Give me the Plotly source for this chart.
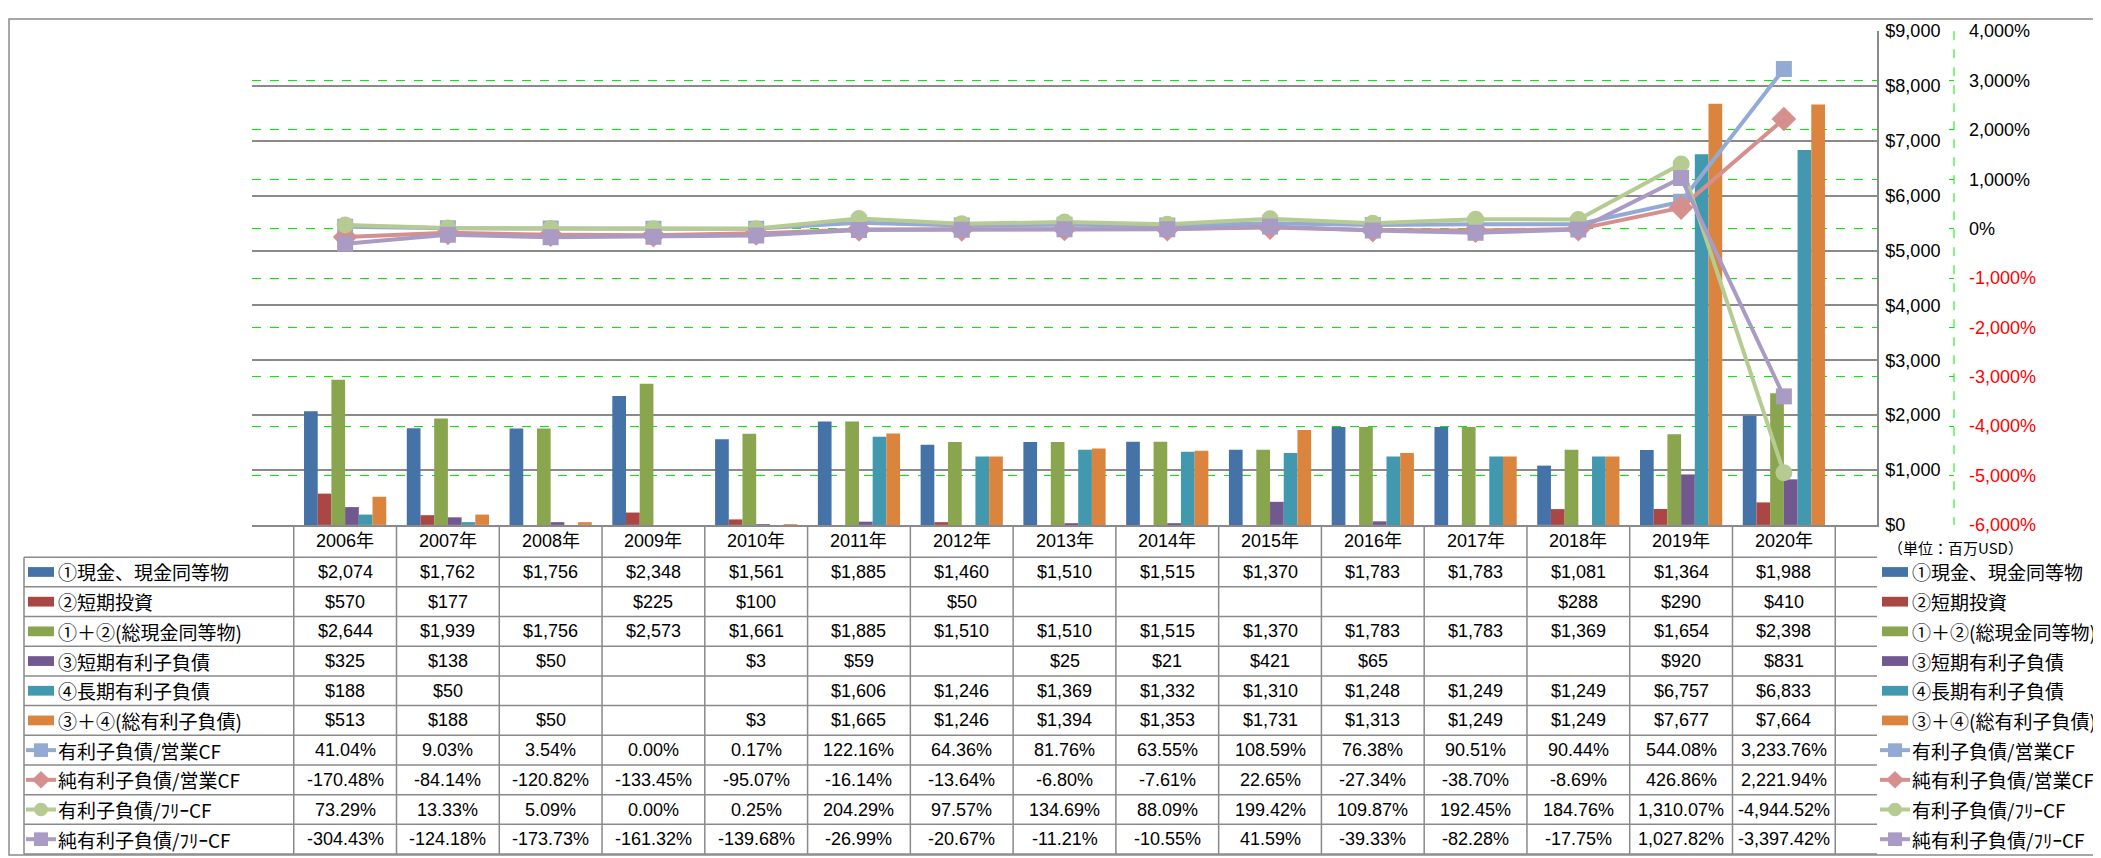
import plotly.graph_objects as go

# ---------------- data ----------------
years = ["2006年", "2007年", "2008年", "2009年", "2010年", "2011年", "2012年", "2013年",
         "2014年", "2015年", "2016年", "2017年", "2018年", "2019年", "2020年"]

cash = [2074, 1762, 1756, 2348, 1561, 1885, 1460, 1510, 1515, 1370, 1783, 1783, 1081, 1364, 1988]
short_inv = [570, 177, None, 225, 100, None, 50, None, None, None, None, None, 288, 290, 410]
total_cash = [2644, 1939, 1756, 2573, 1661, 1885, 1510, 1510, 1515, 1370, 1783, 1783, 1369, 1654, 2398]
short_debt = [325, 138, 50, None, 3, 59, None, 25, 21, 421, 65, None, None, 920, 831]
long_debt = [188, 50, None, None, None, 1606, 1246, 1369, 1332, 1310, 1248, 1249, 1249, 6757, 6833]
total_debt = [513, 188, 50, None, 3, 1665, 1246, 1394, 1353, 1731, 1313, 1249, 1249, 7677, 7664]

debt_ocf = [41.04, 9.03, 3.54, 0.00, 0.17, 122.16, 64.36, 81.76, 63.55, 108.59, 76.38, 90.51, 90.44, 544.08, 3233.76]
netdebt_ocf = [-170.48, -84.14, -120.82, -133.45, -95.07, -16.14, -13.64, -6.80, -7.61, 22.65, -27.34, -38.70, -8.69, 426.86, 2221.94]
debt_fcf = [73.29, 13.33, 5.09, 0.00, 0.25, 204.29, 97.57, 134.69, 88.09, 199.42, 109.87, 192.45, 184.76, 1310.07, -4944.52]
netdebt_fcf = [-304.43, -124.18, -173.73, -161.32, -139.68, -26.99, -20.67, -11.21, -10.55, 41.59, -39.33, -82.28, -17.75, 1027.82, -3397.42]

bar_names = ["①現金、現金同等物", "②短期投資", "①＋②(総現金同等物)", "③短期有利子負債",
             "④長期有利子負債", "③＋④(総有利子負債)"]
line_names = ["有利子負債/営業CF", "純有利子負債/営業CF", "有利子負債/ﾌﾘｰCF", "純有利子負債/ﾌﾘｰCF"]

usd_ticks = list(range(0, 9001, 1000))
pct_ticks = list(range(-6000, 4001, 1000))
unit_label = "（単位：百万USD）"

# ---------------- styles ----------------
bar_colors = ["#4572A7", "#AA4643", "#89A54E", "#71588F", "#4198AF", "#DB843D"]
line_colors = ["#93ABD4", "#D58F8D", "#B5CB92", "#A99BC3"]
line_symbols = ["square", "diamond", "circle", "square"]
line_msizes = [16, 19, 17, 16]

W, H = 2101, 858
def px(x):
    return x / W
def py(y):
    return 1 - y / H

PLOT_L, PLOT_R, PLOT_T, PLOT_B = 244, 1869, 13.5, 519
HEAD_B = 552
TABLE_B = 856
TABLE_L = 16
GRAY = "#8a8a8a"
NUM_FONT = "Liberation Sans, Noto Sans CJK JP"
JP_FONT = "Noto Sans CJK JP"

bar_series = [cash, short_inv, total_cash, short_debt, long_debt, total_debt]
line_series = [debt_ocf, netdebt_ocf, debt_fcf, netdebt_fcf]

fig = go.Figure()
for name, vals, col in zip(bar_names, bar_series, bar_colors):
    fig.add_trace(go.Bar(x=years, y=vals, name=name, marker=dict(color=col, line=dict(width=0)),
                         yaxis="y", hoverinfo="skip"))
for name, vals, col, sym, ms in zip(line_names, line_series, line_colors, line_symbols, line_msizes):
    fig.add_trace(go.Scatter(x=years, y=vals, name=name, yaxis="y2", mode="lines+markers",
                             line=dict(color=col, width=4),
                             marker=dict(symbol=sym, size=ms, color=col),
                             hoverinfo="skip"))

# ---------------- table ----------------
rows_h = (TABLE_B - HEAD_B) / 10.0
row_bounds = [HEAD_B + i * rows_h for i in range(11)]
row_centers = [(row_bounds[i] + row_bounds[i + 1]) / 2 for i in range(10)]
head_center = (PLOT_B + HEAD_B) / 2

shapes = []
annotations = []

# vertical lines of data columns
for i in range(len(years) + 1):
    shapes.append(dict(type="line", xref="x", yref="paper", x0=i - 0.5, x1=i - 0.5,
                       y0=py(PLOT_B), y1=py(TABLE_B), line=dict(color=GRAY, width=1.5)))
# left border of label column
shapes.append(dict(type="line", xref="paper", yref="paper", x0=px(TABLE_L), x1=px(TABLE_L),
                   y0=py(HEAD_B), y1=py(TABLE_B), line=dict(color=GRAY, width=1.5)))
# horizontal lines
for yb in row_bounds:
    shapes.append(dict(type="line", xref="paper", yref="paper", x0=px(TABLE_L), x1=px(PLOT_R),
                       y0=py(yb), y1=py(yb), line=dict(color=GRAY, width=1.5)))

# header labels
for yr in years:
    annotations.append(dict(x=yr, y=py(head_center), xref="x", yref="paper", text=yr,
                            showarrow=False, xanchor="center", yanchor="middle",
                            font=dict(family=NUM_FONT, size=18, color="#000")))

# cell values
all_series = bar_series + line_series
for r, vals in enumerate(all_series):
    for yr, v in zip(years, vals):
        if v is None:
            continue
        txt = f"${v:,.0f}" if r < 6 else f"{v:,.2f}%"
        annotations.append(dict(x=yr, y=py(row_centers[r]), xref="x", yref="paper", text=txt,
                                showarrow=False, xanchor="center", yanchor="middle",
                                font=dict(family=NUM_FONT, size=18, color="#000")))

# legend keys (in table label column and right legend)
def add_key(r, x0, x1, text_x):
    yc = row_centers[r]
    if r < 6:
        shapes.append(dict(type="rect", xref="paper", yref="paper",
                           x0=px(x0 + 2), x1=px(x1 - 2), y0=py(yc - 5), y1=py(yc + 5),
                           fillcolor=bar_colors[r], line=dict(width=0)))
    else:
        k = r - 6
        col = line_colors[k]
        shapes.append(dict(type="line", xref="paper", yref="paper", x0=px(x0), x1=px(x1),
                           y0=py(yc), y1=py(yc), line=dict(color=col, width=4)))
        xc = (x0 + x1) / 2
        s = 7
        if line_symbols[k] == "square":
            shapes.append(dict(type="rect", xref="paper", yref="paper", x0=px(xc - s), x1=px(xc + s),
                               y0=py(yc - s), y1=py(yc + s), fillcolor=col, line=dict(width=0)))
        elif line_symbols[k] == "circle":
            shapes.append(dict(type="circle", xref="paper", yref="paper", x0=px(xc - s), x1=px(xc + s),
                               y0=py(yc - s), y1=py(yc + s), fillcolor=col, line=dict(width=0)))
        else:
            d = 9
            path = (f"M {px(xc - d)} {py(yc)} L {px(xc)} {py(yc - d)} "
                    f"L {px(xc + d)} {py(yc)} L {px(xc)} {py(yc + d)} Z")
            shapes.append(dict(type="path", xref="paper", yref="paper", path=path,
                               fillcolor=col, line=dict(width=0)))
    names = bar_names + line_names
    annotations.append(dict(x=px(text_x), y=py(yc), xref="paper", yref="paper", text=names[r],
                            showarrow=False, xanchor="left", yanchor="middle",
                            font=dict(family=JP_FONT, size=19, color="#000")))

for r in range(10):
    add_key(r, 18, 48, 48)
    add_key(r, 1872, 1902, 1902)

annotations.append(dict(x=px(1878), y=py(542), xref="paper", yref="paper", text=unit_label,
                        showarrow=False, xanchor="left", yanchor="middle",
                        font=dict(family=JP_FONT, size=15, color="#000")))

# dashed secondary axis line
shapes.append(dict(type="line", xref="paper", yref="paper", x0=px(1946), x1=px(1946),
                   y0=py(PLOT_T), y1=py(PLOT_B), line=dict(color="#00ee00", width=1, dash="dash")))
# outer chart border
shapes.append(dict(type="rect", xref="paper", yref="paper", x0=px(1), x1=px(2100),
                   y0=py(857), y1=py(1), line=dict(color=GRAY, width=1.5), fillcolor="rgba(0,0,0,0)"))

usd_text = [f"${v:,}" for v in usd_ticks]
pct_text = [(f"<span style='color:red'>{v:,}%</span>" if v < 0 else f"{v:,}%") for v in pct_ticks]

fig.update_layout(
    width=W, height=H,
    margin=dict(l=0, r=0, t=0, b=0),
    paper_bgcolor="white", plot_bgcolor="white",
    showlegend=False,
    barmode="group", bargap=0.2, bargroupgap=0,
    xaxis=dict(domain=[px(PLOT_L), px(PLOT_R)], type="category", showticklabels=False,
               showgrid=False, showline=True, linecolor=GRAY, linewidth=1.5, ticks="",
               zeroline=False, fixedrange=True),
    yaxis=dict(domain=[py(PLOT_B), py(PLOT_T)], range=[0, 9000], side="right",
               tickvals=usd_ticks, ticktext=usd_text, showgrid=True, gridcolor=GRAY, gridwidth=1.5,
               showline=True, linecolor=GRAY, linewidth=1.5, zeroline=False, ticks="",
               ticklabelstandoff=3, tickfont=dict(family=NUM_FONT, size=18, color="#000")),
    yaxis2=dict(overlaying="y", side="right", anchor="free", position=px(1946),
                range=[-6000, 4000], tickvals=pct_ticks, ticktext=pct_text,
                showgrid=True, gridcolor="#00ee00", gridwidth=1, griddash="dash",
                showline=False, zeroline=False, ticks="inside", ticklen=5, tickcolor="#00ee00",
                ticklabelstandoff=14, tickfont=dict(family=NUM_FONT, size=18, color="#000")),
    shapes=shapes,
    annotations=annotations,
)

fig.write_html("out.html")
